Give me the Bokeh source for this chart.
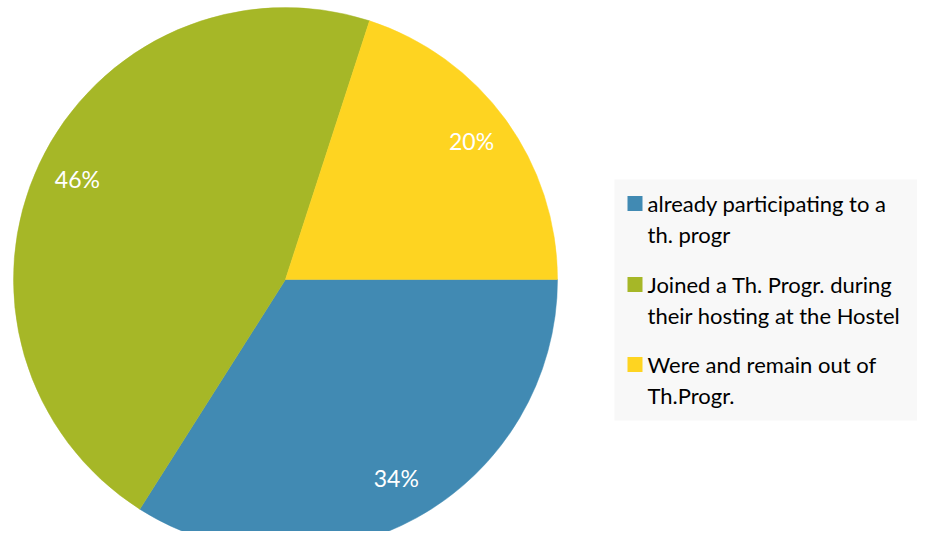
import math
from bokeh.plotting import figure
from bokeh.models import Range1d, ColumnDataSource
from bokeh.core.properties import value
from bokeh.embed import file_html
from bokeh.resources import INLINE

# ---- data ----
categories = [
    "already participating to a th. progr",
    "Joined a Th. Progr. during their hosting at the Hostel",
    "Were and remain out of Th.Progr.",
]
legend_lines = [
    ["already participating to a", "th. progr"],
    ["Joined a Th. Progr. during", "their hosting at the Hostel"],
    ["Were and remain out of", "Th.Progr."],
]
values = [34, 46, 20]
labels = ["34%", "46%", "20%"]
colors = ["#418AB3", "#A6B727", "#FED421"]

# ---- layout ----
W, H = 917, 531
cx, cy, r = 285, 252, 272
label_r = 230
FONT = "Lato"

p = figure(width=W, height=H, output_backend="svg", toolbar_location=None,
           x_range=Range1d(0, W), y_range=Range1d(0, H),
           x_axis_location=None, y_axis_location=None, min_border=0)
p.grid.visible = False
p.outline_line_color = None
p.background_fill_color = "white"
p.border_fill_color = "white"

total = float(sum(values))
starts, ends, lx, ly = [], [], [], []
cum = 0.0
for v in values:
    a0 = -cum / total * 2 * math.pi
    cum += v
    a1 = -cum / total * 2 * math.pi
    starts.append(a0)
    ends.append(a1)
    mid = (a0 + a1) / 2
    lx.append(cx + label_r * math.cos(mid))
    ly.append(cy + label_r * math.sin(mid) + 3)

src = ColumnDataSource(dict(start=starts, end=ends, color=colors,
                            lx=lx, ly=ly, label=labels))
p.wedge(x=cx, y=cy, radius=r, start_angle="start", end_angle="end",
        direction="clock", fill_color="color", line_color="color",
        line_width=0.5, source=src)
p.text(x="lx", y="ly", text="label", source=src, text_color="white",
       text_font=value(FONT), text_font_size="23px",
       text_align="center", text_baseline="middle")

# ---- legend ----
p.quad(left=[614], right=[932], bottom=[111], top=[352],
       fill_color="#F8F8F8", line_color=None)
sq_y = [328, 247, 167]
p.rect(x=[634.5] * 3, y=sq_y, width=15, height=15, fill_color=colors,
       line_color=None)
tx, ty, tt = [], [], []
for yy, lines in zip(sq_y, legend_lines):
    for i, ln in enumerate(lines):
        tx.append(647)
        ty.append(yy - i * 31)
        tt.append(ln)
p.text(x=tx, y=ty, text=tt, text_color="#000000", text_font=value(FONT),
       text_font_size="22px", text_align="left", text_baseline="middle")

open("out.html", "w").write(file_html(p, INLINE))
